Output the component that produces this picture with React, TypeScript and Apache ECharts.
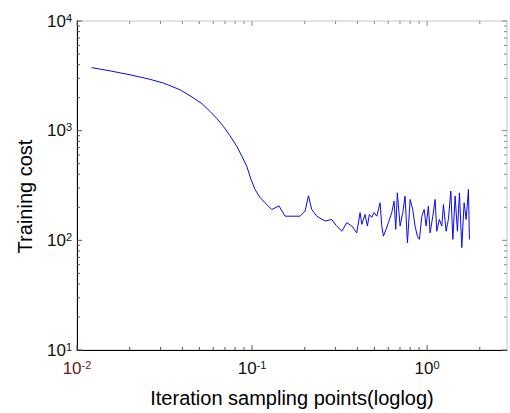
import React, { useEffect, useRef } from 'react';
import * as echarts from 'echarts';

// Iteration sampling points (x, log scale) and training cost (y, log scale)
const ITER = [
  0.0121, 0.01545, 0.0201, 0.0261, 0.0311, 0.0388, 0.0462, 0.0518, 0.0575, 0.0631,
  0.0686, 0.0748, 0.0818, 0.0877, 0.0933, 0.0986, 0.104, 0.111, 0.1186, 0.1296,
  0.1425, 0.1544, 0.188, 0.201, 0.21, 0.2193, 0.2344, 0.2612, 0.2852, 0.302,
  0.3256, 0.3475, 0.3713, 0.3963, 0.414, 0.4236, 0.442, 0.456, 0.4677, 0.483,
  0.498, 0.516, 0.5388, 0.5508, 0.5627, 0.583, 0.601, 0.628, 0.6477, 0.662,
  0.676, 0.701, 0.726, 0.748, 0.772, 0.8, 0.828, 0.853, 0.88, 0.904,
  0.933, 0.962, 0.987, 1.017, 1.04, 1.078, 1.111, 1.136, 1.175, 1.213,
  1.24, 1.284, 1.323, 1.366, 1.403, 1.445, 1.49, 1.53, 1.578, 1.627,
  1.671, 1.722, 1.745,
];
const COST = [
  3760, 3510, 3230, 2940, 2720, 2360, 1990, 1760, 1500, 1285,
  1094, 900, 720, 580, 473, 360, 291, 246, 220, 191,
  206, 166, 166, 185, 255, 191, 166, 150, 155, 137,
  121, 145, 135, 117, 179, 140, 172, 135, 172, 162,
  179, 166, 220, 135, 109, 126, 145, 179, 228, 126,
  271, 135, 179, 253, 95, 236, 191, 135, 109, 102,
  166, 191, 135, 205, 117, 166, 236, 121, 155, 135,
  212, 121, 155, 281, 102, 253, 121, 271, 86, 220,
  155, 291, 102,
];

// Axis ranges and tick values
const X_MIN = 0.01;
const X_MAX = 2.86;
const Y_MIN = 10;
const Y_MAX = 10000;
const X_DECADES = [0.01, 0.1, 1];
const Y_DECADES = [10, 100, 1000, 10000];
const MINOR_STEPS = [2, 3, 4, 5, 6, 7, 8, 9];

const X_NAME = 'Iteration sampling points(loglog)';
const Y_NAME = 'Training cost';

const FONT = '"Liberation Sans", Arial, sans-serif';

function powLabel(v: number, first: boolean) {
  const lg = Math.log10(v);
  const e = Math.round(lg);
  if (Math.abs(lg - e) > 1e-6) return '';
  return first ? `{r|10}{rs|${e}}` : `{b|10}{s|${e}}`;
}

const richStyles = {
  b: { fontSize: 17, fontFamily: FONT, color: '#111', lineHeight: 18 },
  s: { fontSize: 11, fontFamily: FONT, color: '#111', verticalAlign: 'top', lineHeight: 11 },
  r: { fontSize: 17, fontFamily: FONT, color: '#6a1c1c', lineHeight: 18 },
  rs: { fontSize: 11, fontFamily: FONT, color: '#6a1c1c', verticalAlign: 'top', lineHeight: 11 },
};

export default function App() {
  const ref = useRef<HTMLDivElement>(null);
  useEffect(() => {
    if (!ref.current) return;
    const chart = echarts.init(ref.current, null, { renderer: 'svg' });

    const xTicks: number[][] = [];
    X_DECADES.forEach((d) => {
      xTicks.push([d, Y_MIN, 1]);
      MINOR_STEPS.forEach((m) => {
        const v = d * m;
        if (v < X_MAX) xTicks.push([v, Y_MIN, 0]);
      });
    });
    const yTicks: number[][] = [];
    Y_DECADES.forEach((d) => {
      yTicks.push([X_MIN, d, 1]);
      if (d < Y_MAX) MINOR_STEPS.forEach((m) => yTicks.push([X_MIN, d * m, 0]));
    });

    const lineData = ITER.map((x, i) => [x, COST[i]]);

    const option: any = {
      animation: false,
      backgroundColor: '#fff',
      grid: {
        left: 77, top: 21, right: 3, bottom: 62,
        show: true, borderColor: '#c4c4c4', borderWidth: 1, backgroundColor: 'transparent',
      },
      xAxis: {
        type: 'log', logBase: 10, min: X_MIN, max: X_MAX,
        axisLine: { show: true, lineStyle: { color: '#000', width: 1 } },
        axisTick: { show: false },
        splitLine: { show: false },
        minorTick: { show: false },
        axisLabel: {
          margin: 9,
          formatter: (v: number) => powLabel(v, Math.abs(v - X_MIN) < 1e-9),
          rich: richStyles,
          showMaxLabel: false,
        },
        name: X_NAME,
        nameLocation: 'middle',
        nameGap: 38,
        nameTextStyle: { fontSize: 20, fontFamily: FONT, color: '#000' },
      },
      yAxis: {
        type: 'log', logBase: 10, min: Y_MIN, max: Y_MAX,
        axisLine: { show: true, lineStyle: { color: '#000', width: 1 } },
        axisTick: { show: false },
        splitLine: { show: false },
        minorTick: { show: false },
        axisLabel: {
          margin: 5,
          formatter: (v: number) => powLabel(v, false),
          rich: richStyles,
        },
        name: Y_NAME,
        nameLocation: 'middle',
        nameGap: 42,
        nameTextStyle: { fontSize: 20, fontFamily: FONT, color: '#000', padding: [0, 22, 0, 0] },
      },
      series: [
        {
          type: 'custom',
          silent: true,
          data: xTicks,
          encode: { x: 0, y: 1 },
          clip: false,
          renderItem: (params: any, api: any) => {
            const cs = params.coordSys;
            const px = api.coord([api.value(0), Y_MIN])[0];
            const len = api.value(2) ? 5 : 3;
            const b = cs.y + cs.height;
            const t = cs.y;
            return {
              type: 'group',
              children: [
                { type: 'line', shape: { x1: px, y1: b, x2: px, y2: b - len }, style: { stroke: '#555', lineWidth: 1 } },
                { type: 'line', shape: { x1: px, y1: t, x2: px, y2: t + len }, style: { stroke: '#888', lineWidth: 1 } },
              ],
            };
          },
        },
        {
          type: 'custom',
          silent: true,
          data: yTicks,
          encode: { x: 0, y: 1 },
          clip: false,
          renderItem: (params: any, api: any) => {
            const cs = params.coordSys;
            const py = api.coord([X_MIN, api.value(1)])[1];
            const len = api.value(2) ? 5 : 3;
            const l = cs.x;
            const r = cs.x + cs.width;
            return {
              type: 'group',
              children: [
                { type: 'line', shape: { x1: l, y1: py, x2: l + len, y2: py }, style: { stroke: '#555', lineWidth: 1 } },
                { type: 'line', shape: { x1: r, y1: py, x2: r - len, y2: py }, style: { stroke: '#888', lineWidth: 1 } },
              ],
            };
          },
        },
        {
          type: 'line',
          data: lineData,
          showSymbol: false,
          symbol: 'none',
          lineStyle: { color: '#0a0aee', width: 1 },
          z: 5,
        },
      ],
    };
    chart.setOption(option);
    return () => chart.dispose();
  }, []);
  return <div ref={ref} style={{ position: 'fixed', left: 0, top: 0, width: 510, height: 413 }} />;
}
